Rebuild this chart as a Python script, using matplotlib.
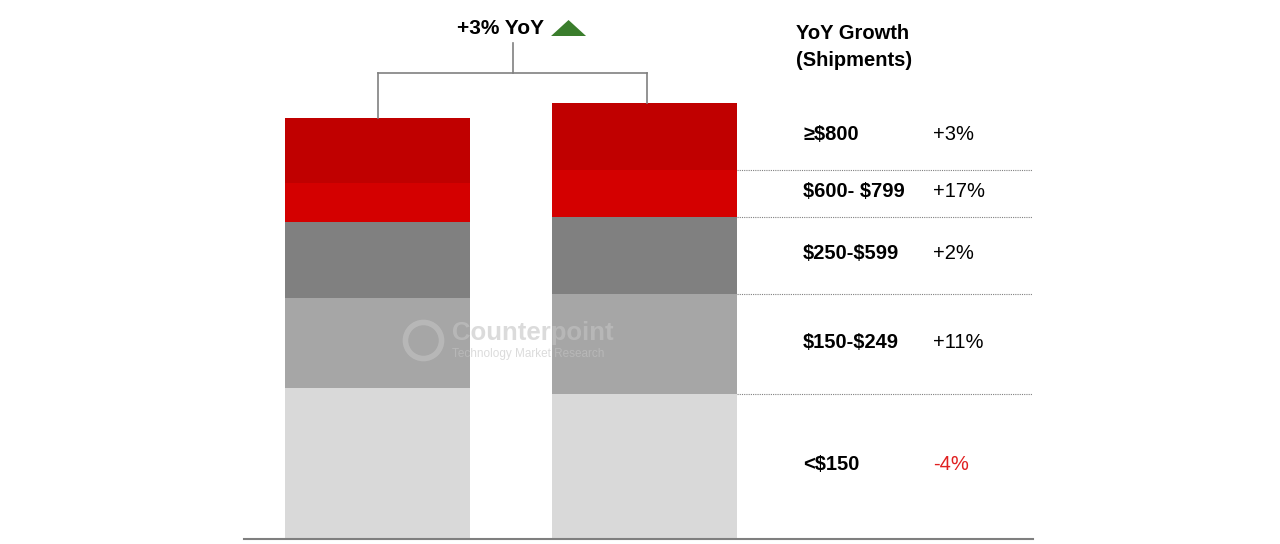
import matplotlib.pyplot as plt
from matplotlib.patches import Polygon

plt.rcParams['font.family'] = ['Liberation Sans', 'DejaVu Sans']
plt.rcParams['text.parse_math'] = False

# price bands, bottom to top
bands = ['<$150', '$150-$249', '$250-$599', '$600- $799', '≥$800']
growth = ['-4%', '+11%', '+2%', '+17%', '+3%']
# shipments (relative units)
prev_year = [151, 90, 76, 39, 65]
curr_year = [145, 100, 77, 47, 67]
colors = ['#d9d9d9', '#a6a6a6', '#808080', '#d40000', '#c00000']
total_growth = '+3% YoY'

fig = plt.figure(figsize=(12.8, 5.44), dpi=100)
ax = fig.add_axes([244 / 1280, 5 / 544, (1033 - 244) / 1280, 539 / 544])

w = 0.693
xs = [0, 1]
for i, series in enumerate([prev_year, curr_year]):
    bottom = 0
    for v, c in zip(series, colors):
        ax.bar(xs[i], v, w, bottom=bottom, color=c, linewidth=0)
        bottom += v

ax.set_xlim(-0.5, 2.455)
ax.set_ylim(0, 539)
for s in ['top', 'right', 'left']:
    ax.spines[s].set_visible(False)
ax.spines['bottom'].set_color('#7f7f7f')
ax.spines['bottom'].set_linewidth(1.5)
ax.set_xticks([])
ax.set_yticks([])

# dotted separators and labels next to the second bar
bottom = 0
for i, v in enumerate(curr_year):
    if i > 0:
        ax.plot([1 + w / 2, 2.455], [bottom, bottom], color='#808080',
                linestyle=(0, (1, 1)), linewidth=0.8)
    mid = bottom + v / 2 + 2
    ax.text(1.594, mid, bands[i], fontsize=14.5, fontweight='bold',
            va='center', ha='left')
    ax.text(2.08, mid, growth[i], fontsize=14.5, va='center', ha='left',
            color='#e02020' if growth[i].startswith('-') else 'black')
    bottom += v

ax.text(1.567, 492, 'YoY Growth\n(Shipments)', fontsize=14.5, fontweight='bold',
        ha='left', va='center', linespacing=1.55)

# bracket above the bars
t1, t2 = sum(prev_year), sum(curr_year)
bk = dict(color='#808080', linewidth=1.2)
ax.plot([0, 0], [t1, 466], **bk)
ax.plot([1.01, 1.01], [t2, 466], **bk)
ax.plot([0, 1.01], [466, 466], **bk)
ax.plot([0.506, 0.506], [466, 496], **bk)
ax.text(0.46, 511, total_growth, fontsize=15, fontweight='bold',
        ha='center', va='center')
ax.add_patch(Polygon([[0.650, 503], [0.781, 503], [0.7155, 519]],
                     closed=True, color='#3a7d2c', linewidth=0))

# watermark
ax.text(0.28, 206, 'Counterpoint', fontsize=18.5, fontweight='bold',
        color='#c4c4c4', alpha=0.6, ha='left', va='center')
ax.text(0.28, 185, 'Technology Market Research', fontsize=8.5,
        color='#c4c4c4', alpha=0.6, ha='left', va='center')
ax.plot(0.17, 199, marker='o', markersize=26, markerfacecolor='none',
        markeredgecolor='#c4c4c4', markeredgewidth=4, alpha=0.6)

fig.savefig('out.png', dpi=100)
